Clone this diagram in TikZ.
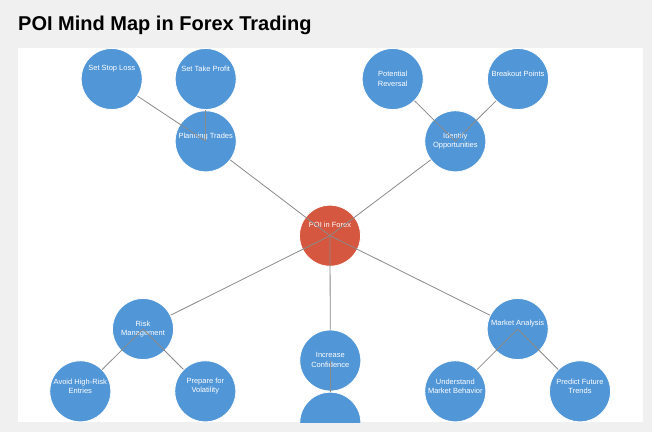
\documentclass[tikz,border=0pt]{standalone}
\usepackage{fontspec}
\setmainfont{Liberation Sans}
\definecolor{nodeblue}{HTML}{5196D6}
\definecolor{rootred}{HTML}{D5573F}
\definecolor{linkgray}{HTML}{8A8A8A}
\definecolor{pagegray}{HTML}{F0F0F0}

\begin{document}
\begin{tikzpicture}[
  x=1pt, y=-1pt,
  topic/.style = {circle, fill=nodeblue, draw=white, line width=0.8pt,
                  minimum size=61pt, inner sep=0pt},
  root/.style  = {fill=rootred},
  link/.style  = {draw=linkgray, line width=0.8pt},
  lbl/.style   = {text=white, font=\fontsize{7.5}{9.3}\selectfont,
                  align=center, inner sep=0pt},
  ttl/.style   = {font=\fontsize{20}{24}\selectfont\bfseries,
                  anchor=base west, inner sep=0pt},
]
  \useasboundingbox (0,0) rectangle (652,432);
  \fill[pagegray] (0,0) rectangle (652,432);
  \fill[white] (18,47.5) rectangle (643,422);
  \node[ttl] (title) at (18,30) {POI Mind Map in Forex Trading};

  \begin{scope}
  \clip (18,47.5) rectangle (643,422);

  % centre
  \node[topic,root] (poi) at (330,235.7) {};
  \node[lbl] (poiT) at (330,225) {POI in Forex};

  % first ring
  \node[topic] (plan) at (205.7,141.3) {};                      % up left
  \node[lbl] (planT) at (205.7,136.7) {Planning Trades};
  \node[topic] (ident) at (455.3,141.3) {};                     % up right
  \node[lbl] (identT) at (455.3,141.3) {Identify\\Opportunities};
  \node[topic] (risk) at (143,329) {};                          % down left
  \node[lbl] (riskT) at (143,328.7) {Risk\\Management};
  \node[topic] (conf) at (330.3,360.5) {};                      % down
  \node[lbl] (confT) at (330.3,360) {Increase\\Confidence};
  \node[topic] (market) at (517.7,329) {};                      % down right
  \node[lbl] (marketT) at (517.7,324) {Market Analysis};

  % second ring
  \node[topic] (stop) at (111.7,79) {};
  \node[lbl] (stopT) at (111.7,69) {Set Stop Loss};
  \node[topic] (take) at (205.7,79) {};
  \node[lbl] (takeT) at (205.7,69) {Set Take Profit};
  \node[topic] (rev) at (392.7,79) {};
  \node[lbl] (revT) at (392.7,78.7) {Potential\\Reversal};
  \node[topic] (break) at (518,79) {};
  \node[lbl] (breakT) at (518,74) {Breakout Points};
  \node[topic] (avoid) at (80.3,391.3) {};
  \node[lbl] (avoidT) at (80.3,386) {Avoid High-Risk\\Entries};
  \node[topic] (vol) at (205.3,391.3) {};
  \node[lbl] (volT) at (205.3,386) {Prepare for\\Volatility};
  \node[topic] (below) at (330.3,422.7) {};                     % cut by the frame
  \node[topic] (behav) at (455.3,391.3) {};
  \node[lbl] (behavT) at (455.3,386) {Understand\\Market Behavior};
  \node[topic] (trend) at (580,391.3) {};
  \node[lbl] (trendT) at (580,386) {Predict Future\\Trends};

  % links run from the parent's centre to the child's rim
  \draw[link] (poi.center) -- (plan);
  \draw[link] (poi.center) -- (ident);
  \draw[link] (poi.center) -- (risk);
  \draw[link] (poi.center) -- (conf);
  \draw[link] (poi.center) -- (market);
  \draw[link] (plan.center) -- (stop);
  \draw[link] (plan.center) -- (take);
  \draw[link] (ident.center) -- (rev);
  \draw[link] (ident.center) -- (break);
  \draw[link] (risk.center) -- (avoid);
  \draw[link] (risk.center) -- (vol);
  \draw[link] (conf.center) -- (below);
  \draw[link] (market.center) -- (behav);
  \draw[link] (market.center) -- (trend);
  \end{scope}
\end{tikzpicture}
\end{document}
